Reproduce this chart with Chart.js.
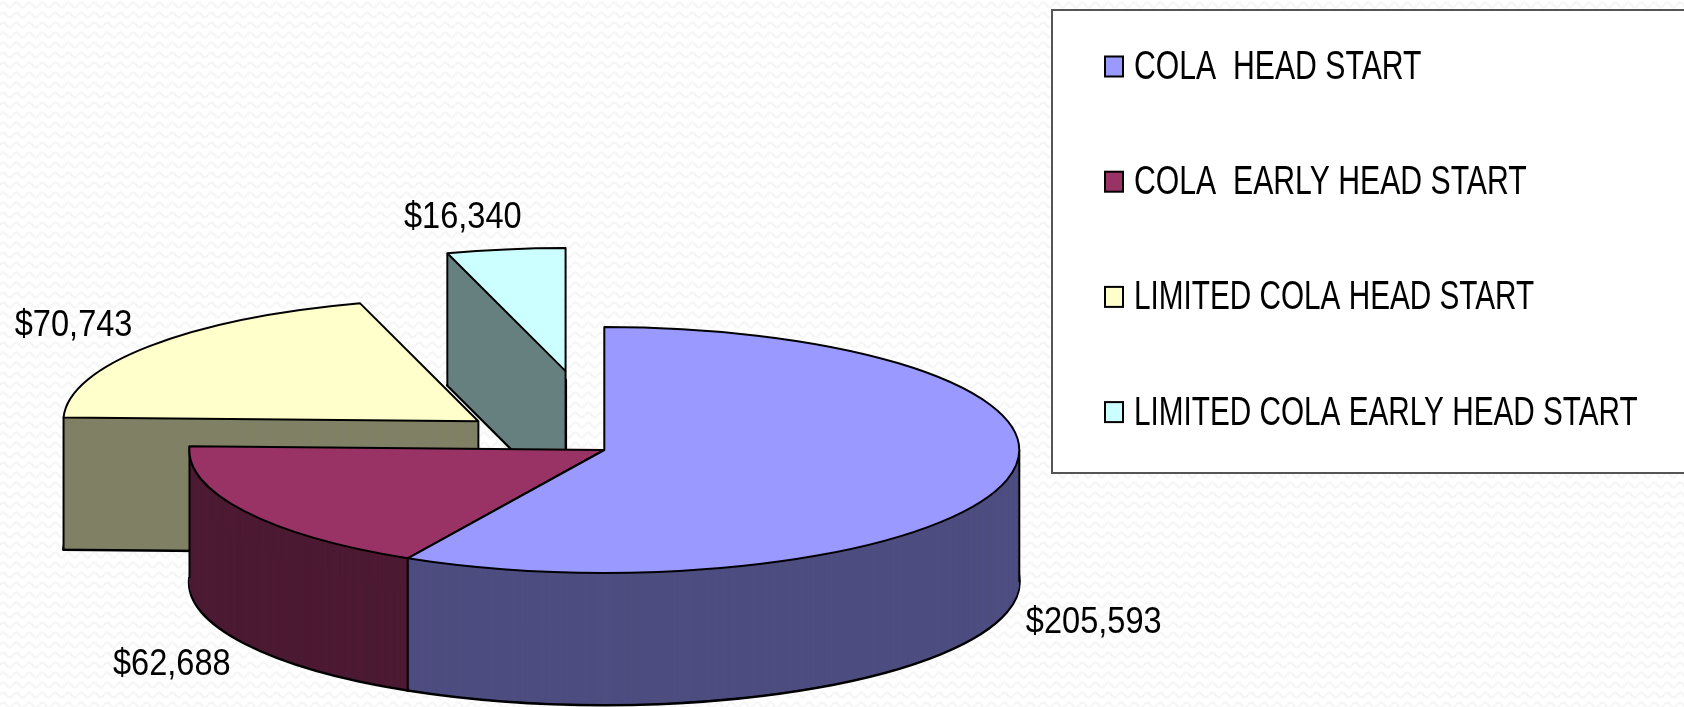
<!DOCTYPE html>
<html>
<head>
<meta charset="utf-8">
<title>COLA funding</title>
<style>
    html, body { margin: 0; padding: 0; background-color: #fff; }
    #wrap {
        width: 1684px; height: 707px; overflow: hidden;
        background-image: url("data:image/svg+xml,%3Csvg xmlns='http://www.w3.org/2000/svg' width='13' height='10'%3E%3Cpath d='M0 5q3.25-5 6.5 0t6.5 0' fill='none' stroke='%23f6f6f6' stroke-width='2.5'/%3E%3C/svg%3E");
    }
    canvas { display: block; }
</style>
<script src="https://cdn.jsdelivr.net/npm/chart.js@4/dist/chart.umd.min.js"></script>
</head>
<body>
<div id="wrap"><canvas id="chart" width="1684" height="707"></canvas></div>
<script>
const categories = ['COLA  HEAD START', 'COLA  EARLY HEAD START', 'LIMITED COLA HEAD START', 'LIMITED COLA EARLY HEAD START'];
const seriesValues = [205593, 62688, 70743, 16340];
const topColors = ['#9999ff', '#993366', '#ffffcc', '#ccffff'];
const sideColors = ['#4d4d80', '#4d1a33', '#808066', '#668080'];
const explode = [0, 0, 159, 269];
// which vertical edges show on each slice's wall
const wallEdges = [['right', 'end'], ['end'], ['start', 'vertex'], ['start', 'vertex']];
// value label position relative to the middle of the slice's rim
const labelShift = [[87, 143], [-73, 153], [-76, -20], [-43, -32]];
// the legend rows are not all squeezed by the same amount in the original
const legendStretch = [0.755, 0.755, 0.743, 0.743];

const RADIUS = 415;
const SQUASH = 123 / 415;
const DEPTH = 132;
const FONT = '"Liberation Sans", Arial, sans-serif';

function stretchedText(ctx, text, x, y, size, sx) {
    ctx.save();
    ctx.translate(x, y);
    ctx.scale(sx, 1);
    ctx.font = size + 'px ' + FONT;
    ctx.fillStyle = '#000';
    ctx.textBaseline = 'middle';
    ctx.fillText(text, 0, 0);
    ctx.restore();
}

// copy of an arc element that draws with other colours
function arcWith(arc, backgroundColor, borderWidth) {
    return Object.create(arc, {
        options: {
            value: {
                backgroundColor: backgroundColor,
                borderColor: '#000',
                borderWidth: borderWidth,
                borderAlign: 'center',
                borderJoinStyle: 'round',
                borderDash: [],
                borderDashOffset: 0,
                borderRadius: 0,
                offset: 0,
                spacing: 0,
                circular: true
            }
        }
    });
}

const pie3d = {
    id: 'pie3d',
    beforeDatasetsDraw(chart) {
        const ctx = chart.ctx;
        const arcs = chart.getDatasetMeta(0).data;

        // the strokes are done untransformed so that lines keep their width on the squashed pie
        const drawArc = (arc, color, width, dx, dy) => {
            ctx.save();
            ctx.translate(arc.x + dx, arc.y + dy);
            ctx.scale(1, SQUASH);
            ctx.translate(-arc.x, -arc.y);
            const stroke = ctx.stroke;
            ctx.stroke = function () {
                ctx.save();
                ctx.setTransform(1, 0, 0, 1, 0, 0);
                ctx.lineWidth = width;
                stroke.call(ctx);
                ctx.restore();
            };
            arcWith(arc, color, width).draw(ctx);
            delete ctx.stroke;
            ctx.restore();
        };

        [3, 2, 1, 0].forEach(i => {
            const arc = arcs[i];
            const mid = (arc.startAngle + arc.endAngle) / 2;
            const dx = Math.cos(mid) * explode[i];
            const dy = Math.sin(mid) * explode[i] * SQUASH;

            drawArc(arc, sideColors[i], 3, dx, dy + DEPTH);
            for (let d = DEPTH - 1; d > 0; d--) {
                drawArc(arc, sideColors[i], 0, dx, dy + d);
            }

            ctx.save();
            ctx.strokeStyle = '#000';
            ctx.lineWidth = 2;
            wallEdges[i].forEach(edge => {
                const angle = edge === 'start' ? arc.startAngle : edge === 'end' ? arc.endAngle : 0;
                const r = edge === 'vertex' ? 0 : arc.outerRadius;
                const px = arc.x + dx + Math.cos(angle) * r;
                const py = arc.y + dy + Math.sin(angle) * r * SQUASH;
                ctx.beginPath();
                ctx.moveTo(px, py);
                ctx.lineTo(px, py + DEPTH);
                ctx.stroke();
            });
            ctx.restore();

            drawArc(arc, topColors[i], 2, dx, dy);
        });

        arcs.forEach((arc, i) => {
            const mid = (arc.startAngle + arc.endAngle) / 2;
            const x = arc.x + Math.cos(mid) * (explode[i] + arc.outerRadius);
            const y = arc.y + Math.sin(mid) * (explode[i] + arc.outerRadius) * SQUASH;
            ctx.save();
            ctx.textAlign = 'center';
            stretchedText(ctx, '$' + seriesValues[i].toLocaleString('en-US'), x + labelShift[i][0], y + labelShift[i][1], 37, 0.88);
            ctx.restore();
        });
        return false;
    },
    afterDraw(chart) {
        const ctx = chart.ctx;
        ctx.save();
        ctx.fillStyle = '#fff';
        ctx.strokeStyle = '#555';
        ctx.lineWidth = 2;
        ctx.fillRect(1052, 10, 640, 463);
        ctx.strokeRect(1052, 10, 640, 463);

        categories.forEach((name, i) => {
            const y = 66.5 + i * 115.2;
            ctx.fillStyle = topColors[i];
            ctx.strokeStyle = '#000';
            ctx.fillRect(1105, y - 10, 18, 20);
            ctx.strokeRect(1105, y - 10, 18, 20);
            stretchedText(ctx, name, 1134, y + 1.5, 40, legendStretch[i]);
        });
        ctx.restore();
    }
};

new Chart(document.getElementById('chart'), {
    type: 'pie',
    data: {
        labels: categories,
        datasets: [{
            data: seriesValues,
            backgroundColor: topColors,
            borderColor: '#000',
            borderWidth: 2
        }]
    },
    options: {
        responsive: false,
        animation: false,
        radius: RADIUS,
        layout: { padding: { top: 193, right: 475.4, bottom: 0, left: 0 } },
        plugins: {
            legend: { display: false },
            tooltip: { enabled: false }
        }
    },
    plugins: [pie3d]
});
</script>
</body>
</html>
